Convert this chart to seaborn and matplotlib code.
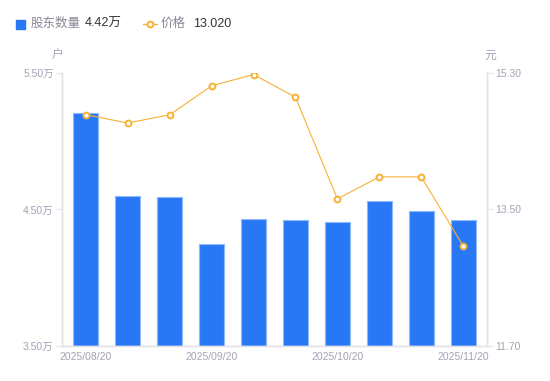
import numpy as np
import pandas as pd
import matplotlib
matplotlib.use('Agg')
import matplotlib.pyplot as plt
import seaborn as sns

# data
dates = ['2025/08/20', '2025/08/31', '2025/09/10', '2025/09/20', '2025/09/30',
         '2025/10/10', '2025/10/20', '2025/10/31', '2025/11/10', '2025/11/20']
holders = [5.21, 4.60, 4.59, 4.25, 4.43, 4.42, 4.41, 4.56, 4.49, 4.42]  # 万户
price = [14.75, 14.64, 14.75, 15.13, 15.28, 14.98, 13.64, 13.93, 13.93, 13.02]

left_ticks = [3.5, 4.5, 5.5]
right_ticks = [11.7, 13.5, 15.3]

sns.set_theme(style='white')
plt.rcParams['font.family'] = ['Liberation Sans', 'Noto Sans CJK SC', 'DejaVu Sans']

blue = '#2878f5'
orange = '#f8b133'
grey = '#a3a3b5'
axis_col = '#e3e3e8'

df = pd.DataFrame({'date': dates, 'holders': holders, 'price': price})

fig = plt.figure(figsize=(5.5, 3.81), dpi=100)
ax = fig.add_axes([0.1127, 0.0919, 0.7728, 0.7165])

sns.barplot(data=df, x='date', y='holders', color=blue, width=0.6,
            edgecolor='#8fb8fa', linewidth=0.8, saturation=1, ax=ax)
xlim = (-0.57, len(dates) - 0.43)
ax.set_ylim(3.5, 5.5)
ax.set_xlim(*xlim)
ax.set_yticks(left_ticks)
ax.set_yticklabels([f'{v:.2f}万' for v in left_ticks])
ax.set_xticks(range(0, len(dates), 3))
ax.set_xticklabels([dates[i] for i in range(0, len(dates), 3)])
ax.set_xlabel('')
ax.set_ylabel('')

ax2 = ax.twinx()
sns.lineplot(x=np.arange(len(price)), y=price, ax=ax2, color=orange, linewidth=0.8,
             marker='o', markersize=4.2, markerfacecolor='white',
             markeredgecolor=orange, markeredgewidth=1.4)
ax2.set_ylim(11.7, 15.3)
ax2.set_yticks(right_ticks)
ax2.set_yticklabels([f'{v:.2f}' for v in right_ticks])
ax2.set_xlim(*xlim)

for a in (ax, ax2):
    for side in ('left', 'right', 'bottom'):
        a.spines[side].set_visible(True)
        a.spines[side].set_color(axis_col)
        a.spines[side].set_linewidth(1)
    a.spines['top'].set_visible(False)
    a.tick_params(colors=grey, labelsize=7.5, length=4, width=0.8, pad=2)
    a.tick_params(axis='y', color=axis_col)
    a.grid(False)
ax.tick_params(axis='x', length=0, pad=4)

# unit labels
fig.text(58 / 550, 1 - 56 / 381, '户', color=grey, fontsize=8.5, ha='center', va='center')
fig.text(490 / 550, 1 - 56 / 381, '元', color=grey, fontsize=8.5, ha='center', va='center')

# legend row at top
fig.patches.append(plt.Rectangle((16 / 550, 1 - 29 / 381), 9 / 550, 9 / 381,
                                 transform=fig.transFigure, color=blue, figure=fig))
fig.text(31 / 550, 1 - 24 / 381, '股东数量', color='#888896', fontsize=9, va='center')
fig.text(85 / 550, 1 - 24 / 381, '4.42万', color='#333333', fontsize=9, va='center')
fig.add_artist(plt.Line2D([143 / 550, 157 / 550], [1 - 24 / 381] * 2, color=orange,
                          linewidth=1, transform=fig.transFigure))
fig.add_artist(plt.Line2D([150 / 550], [1 - 24 / 381], color=orange, linestyle='none',
                          marker='o', markersize=4.2, markerfacecolor='white',
                          markeredgewidth=1.4, transform=fig.transFigure))
fig.text(161 / 550, 1 - 24 / 381, '价格', color='#888896', fontsize=9, va='center')
fig.text(193 / 550, 1 - 24 / 381, '13.020', color='#333333', fontsize=9, va='center')

fig.savefig('out.png', dpi=100)
